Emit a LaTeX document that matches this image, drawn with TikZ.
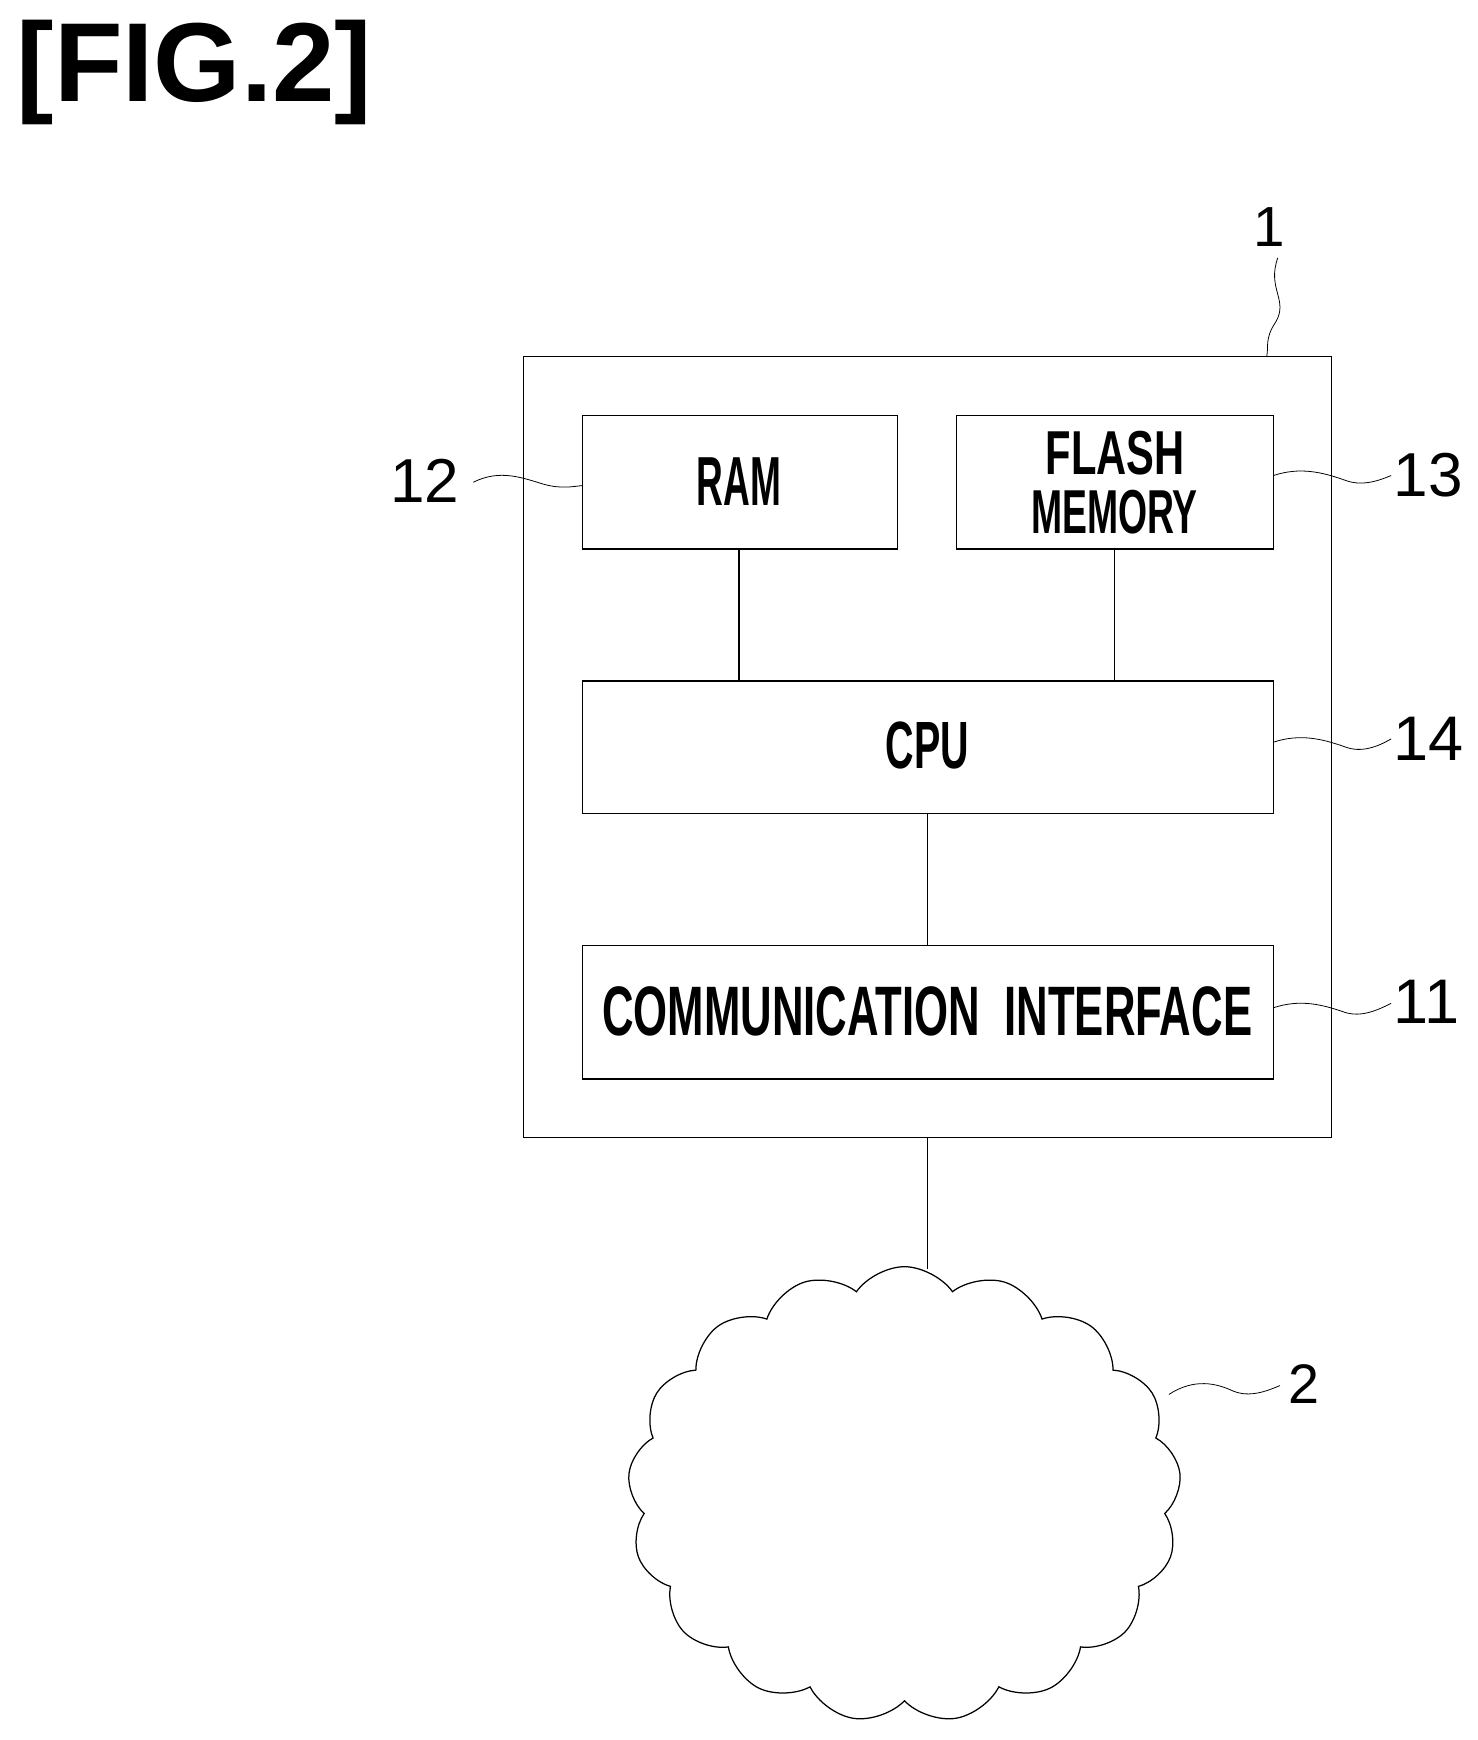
\documentclass[tikz,border=0pt]{standalone}
\usepackage{fontspec}
\setmainfont{Liberation Sans}
\usepackage{graphicx}
\usetikzlibrary{shapes.symbols}
\begin{document}
\begin{tikzpicture}[x=0.05cm,y=-0.05cm,line width=1.6pt,
  box/.style={draw,inner sep=0},
  lbl/.style={inner sep=0,anchor=center},
  sq/.style={line width=1pt}]
\useasboundingbox (0,0) rectangle (1330,1566);
\node[lbl] (title) at (175,65) {\resizebox{16cm}{!}{\textbf{[FIG.2]}}};
\draw (471,321) rectangle (1198,1024);
\coordinate (outerTop) at (1140,321);
\coordinate (outerBot) at (835,1024);
\draw (524,374) rectangle (808,494); \coordinate (ramT) at (665,494); \coordinate (ramL) at (524,437);
\draw (861,374) rectangle (1146,494); \coordinate (flB) at (1003,494); \coordinate (flR) at (1146,428);
\draw (524,613) rectangle (1146,732); \coordinate (cpuT1) at (665,613); \coordinate (cpuT2) at (1003,613); \coordinate (cpuB) at (835,732); \coordinate (cpuR) at (1146,668);
\draw (524,851) rectangle (1146,971); \coordinate (ciT) at (835,851); \coordinate (ciR) at (1146,907);
\node[lbl] (ram) at (665,433.5) {\resizebox{3.8cm}{2.15cm}{\textbf{RAM}}};
\node[lbl] (fl1) at (1003.5,408) {\resizebox{6.25cm}{1.95cm}{\textbf{FLASH}}};
\node[lbl] (fl2) at (1003,460.5) {\resizebox{7.5cm}{1.95cm}{\textbf{MEMORY}}};
\node[lbl] (cpu) at (834.5,671) {\resizebox{3.75cm}{2.1cm}{\textbf{CPU}}};
\node[lbl] (ci) at (834.5,910) {\resizebox{29.25cm}{2.2cm}{\textbf{COMMUNICATION\ \ INTERFACE}}};
\draw (ramT) -- (cpuT1);
\draw (flB) -- (cpuT2);
\draw (cpuB) -- (ciT);
\node[cloud,draw,cloud puffs=17,cloud puff arc=110,aspect=1.2,minimum width=24.9cm,minimum height=20.5cm,inner sep=0] (net) at (814,1345) {};
\draw (outerBot) -- (835,1142);
\node[lbl] (n1) at (1142,204.5) {\resizebox{!}{1.75cm}{1}};
\node[lbl] (n12) at (382.5,432.5) {\resizebox{!}{1.95cm}{12}};
\node[lbl] (n13) at (1285.5,428) {\resizebox{!}{1.95cm}{13}};
\node[lbl] (n14) at (1285.5,665) {\resizebox{!}{1.95cm}{14}};
\node[lbl] (n11) at (1284,902) {\resizebox{!}{1.95cm}{11}};
\node[lbl] (n2) at (1174,1245.5) {\resizebox{!}{1.75cm}{2}};
\draw[sq] (1150,232) .. controls (1140,260) and (1160,270) .. (1148,290) .. controls (1138,305) and (1142,312) .. (outerTop);
\draw[sq] (426,434) .. controls (450,422) and (470,430) .. (490,436) .. controls (505,440) and (515,438) .. (ramL);
\draw[sq] (flR) .. controls (1170,420) and (1190,425) .. (1210,432) .. controls (1225,438) and (1240,433) .. (1252,428);
\draw[sq] (cpuR) .. controls (1170,660) and (1190,665) .. (1210,672) .. controls (1225,678) and (1240,672) .. (1252,665);
\draw[sq] (ciR) .. controls (1170,899) and (1190,904) .. (1210,911) .. controls (1225,916) and (1240,909) .. (1252,903);
\draw[sq] (1052,1255) .. controls (1075,1240) and (1095,1245) .. (1110,1252) .. controls (1125,1258) and (1140,1252) .. (1152,1247);
\end{tikzpicture}
\end{document}
